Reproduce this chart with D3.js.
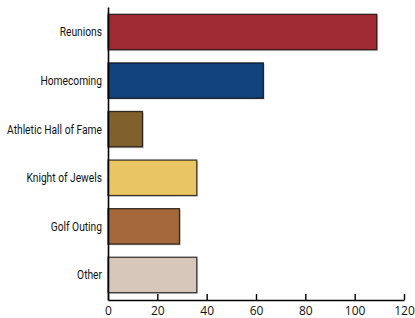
<!DOCTYPE html>
<meta charset="utf-8">
<script src="https://d3js.org/d3.v7.min.js"></script>
<style>
  body { margin: 0; background: #fff; }
  .ylab text { font-family: Roboto, "Liberation Sans", sans-serif; font-size: 13.5px; fill: #111; }
  .xaxis text { font-family: "Open Sans", "Liberation Sans", sans-serif; font-size: 12px; fill: #111; }
</style>
<div id="chart"></div>
<script>
var categories = ["Reunions", "Homecoming", "Athletic Hall of Fame", "Knight of Jewels", "Golf Outing", "Other"];
var values = [109, 63, 14, 36, 29, 36];
var colors = ["#9f2a34", "#12437f", "#80612d", "#e9c663", "#a4683a", "#d7c6ba"];
var xTicks = [0, 20, 40, 60, 80, 100, 120];

var width = 415, height = 318;

var svg = d3.select("#chart").append("svg")
  .attr("width", width)
  .attr("height", height);

var x = d3.scaleLinear()
  .domain([0, 120])
  .range([108, 404]);

var y = d3.scaleBand()
  .domain(categories)
  .range([7, 300])
  .paddingInner(0.27)
  .paddingOuter(0.15);

var data = categories.map(function(c, i) { return {name: c, value: values[i], color: colors[i]}; });

// soft shadow under each bar
svg.selectAll(".shadow")
  .data(data)
  .enter().append("rect")
  .attr("class", "shadow")
  .attr("x", x(0) + 1.5)
  .attr("y", function(d) { return y(d.name) + 1.5; })
  .attr("width", function(d) { return x(d.value) - x(0); })
  .attr("height", y.bandwidth())
  .attr("fill", "#000")
  .attr("opacity", 0.12);

svg.selectAll(".bar")
  .data(data)
  .enter().append("rect")
  .attr("class", "bar")
  .attr("x", x(0))
  .attr("y", function(d) { return y(d.name); })
  .attr("width", function(d) { return x(d.value) - x(0); })
  .attr("height", y.bandwidth())
  .attr("fill", function(d) { return d.color; })
  .attr("stroke", "#000")
  .attr("stroke-opacity", 0.75)
  .attr("stroke-width", 1.3);

// category labels, squeezed so the longest one is ~95px wide like the condensed original
var ylab = svg.append("g")
  .attr("class", "ylab")
  .attr("transform", "translate(" + x(0) + ",0)")
  .call(d3.axisLeft(y).tickSize(0).tickPadding(6))
  .call(function(g) { g.select(".domain").attr("stroke", "#000").attr("stroke-width", 1.6); });
var longest = d3.max(ylab.selectAll(".tick text").nodes(), function(n) { return n.getComputedTextLength(); });
var squeeze = 95 / longest;
ylab.selectAll(".tick text")
  .attr("x", null)
  .attr("transform", "translate(-6,0) scale(" + squeeze + ",1)");

svg.append("g")
  .attr("class", "xaxis")
  .attr("transform", "translate(0," + 300 + ")")
  .call(d3.axisBottom(x).tickValues(xTicks).tickSize(-6).tickSizeOuter(0).tickPadding(6))
  .call(function(g) {
    g.select(".domain").attr("stroke", "#000").attr("stroke-width", 1.6);
    g.selectAll(".tick line").attr("stroke", "#000").attr("stroke-width", 1.4);
  });
</script>
